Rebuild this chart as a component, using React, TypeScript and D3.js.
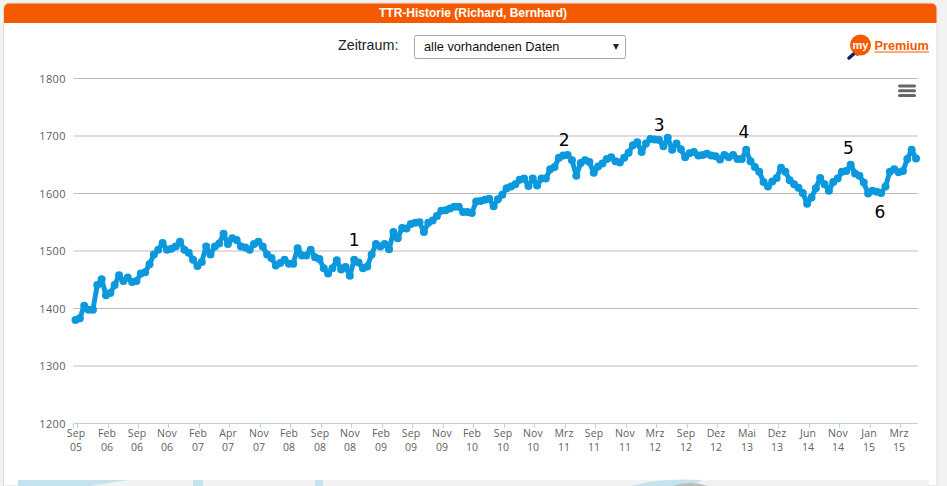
import * as d3 from 'd3';

// TTR values, one per rating update
const ttrValues = [
  1380, 1383, 1405, 1398, 1398, 1441, 1451, 1423, 1427, 1441,
  1458, 1448, 1454, 1446, 1448, 1461, 1463, 1477, 1494, 1502,
  1514, 1502, 1504, 1508, 1516, 1502, 1497, 1485, 1474, 1481,
  1508, 1494, 1508, 1513, 1530, 1512, 1522, 1519, 1508, 1506,
  1502, 1512, 1516, 1508, 1494, 1488, 1475, 1479, 1485, 1478,
  1478, 1505, 1492, 1492, 1502, 1489, 1486, 1470, 1461, 1470,
  1484, 1468, 1472, 1457, 1485, 1480, 1470, 1473, 1494, 1512,
  1508, 1512, 1503, 1533, 1522, 1540, 1539, 1547, 1549, 1550,
  1533, 1549, 1553, 1561, 1570, 1571, 1574, 1577, 1577, 1568,
  1568, 1566, 1586, 1587, 1589, 1591, 1578, 1590, 1598, 1609,
  1612, 1616, 1624, 1626, 1613, 1626, 1614, 1626, 1626, 1642,
  1646, 1662, 1666, 1667, 1658, 1631, 1653, 1658, 1655, 1636,
  1647, 1652, 1660, 1663, 1656, 1654, 1662, 1671, 1684, 1689,
  1672, 1687, 1695, 1694, 1693, 1682, 1697, 1676, 1687, 1677,
  1663, 1670, 1672, 1666, 1667, 1669, 1666, 1665, 1659, 1667,
  1663, 1667, 1660, 1660, 1676, 1656, 1646, 1638, 1620, 1612,
  1621, 1627, 1645, 1638, 1623, 1616, 1610, 1601, 1582, 1593,
  1609, 1627, 1616, 1605, 1620, 1626, 1638, 1639, 1650, 1635,
  1631, 1619, 1600, 1605, 1603, 1601, 1612, 1638, 1642, 1637,
  1639, 1660, 1676, 1661,
];

const tickMonths = [
  'Sep', 'Feb', 'Sep', 'Nov', 'Feb', 'Apr', 'Nov', 'Feb', 'Sep', 'Nov',
  'Feb', 'Sep', 'Nov', 'Feb', 'Sep', 'Nov', 'Mrz', 'Sep', 'Nov', 'Mrz',
  'Sep', 'Dez', 'Mai', 'Dez', 'Jun', 'Nov', 'Jan', 'Mrz',
];
const tickYears = [
  '05', '06', '06', '06', '07', '07', '07', '08', '08', '08',
  '09', '09', '09', '10', '10', '10', '11', '11', '11', '12',
  '12', '12', '13', '13', '14', '14', '15', '15',
];
const yTicks = [1200, 1300, 1400, 1500, 1600, 1700, 1800];

// numbered annotations: text, data index, value at the label baseline
const noteLabels = ['1', '2', '3', '4', '5', '6'];
const noteIndex = [64, 112.2, 134, 153.5, 177.5, 184.7];
const noteValue = [1509, 1682, 1708, 1696, 1668, 1558];

const tickStep = 7;
const font = '"Open Sans", sans-serif';
const orange = '#f55a00';

export default function App() {
  const width = 947;
  const height = 486;

  const x = d3.scaleLinear().domain([0, ttrValues.length - 1]).range([75.5, 916]);
  const y = d3.scaleLinear().domain([1200, 1800]).range([423.5, 78.5]);

  const line = d3.line<number>()
    .x((_, i) => x(i))
    .y(d => y(d));

  // ticks sit a little right of their point, the labels a little left
  const tickX = (k: number) => Math.round(x(k * tickStep + 0.35)) + 0.5;

  return (
    <svg
      width={width}
      height={height}
      viewBox={`0 0 ${width} ${height}`}
      style={{ position: 'absolute', left: 0, top: 0, display: 'block' }}
    >
      <rect width={width} height={height} fill="#f2f2f2" />

      {/* panel */}
      <path
        d="M3.5,486 V9 Q3.5,3 9.5,3 H931 Q937,3 937,9 V486 Z"
        fill="#fff"
        stroke="#dcdcdc"
      />
      <path d="M4,23 V9 Q4,3.5 9.5,3.5 H931 Q936.5,3.5 936.5,9 V23 Z" fill={orange} />
      <text
        x={473}
        y={17}
        textAnchor="middle"
        fill="#fff"
        fontFamily="Liberation Sans, sans-serif"
        fontWeight="bold"
        fontSize={12}
      >
        TTR-Historie (Richard, Bernhard)
      </text>

      {/* period select */}
      <text x={338} y={50} fontFamily="Liberation Sans, sans-serif" fontSize={14.3} fill="#222">
        Zeitraum:
      </text>
      <rect x={414.5} y={35.5} width={211} height={23} rx={2} fill="#fff" stroke="#a6a6a6" />
      <text x={424} y={51} fontFamily="Liberation Sans, sans-serif" fontSize={12.75} fill="#111">
        alle vorhandenen Daten
      </text>
      <path d="M613,44 h6 l-3,6 Z" fill="#222" />

      {/* myPremium logo */}
      <path d="M857,51 L849,58" stroke="#12235e" strokeWidth={3.5} strokeLinecap="round" />
      <path d="M853,50 L862,53 L857,56 Z" fill="#12235e" />
      <ellipse cx={860.5} cy={45} rx={10.5} ry={10.5} fill={orange} />
      <text x={860.5} y={49} textAnchor="middle" fill="#fff" fontFamily="Liberation Sans, sans-serif" fontWeight="bold" fontSize={11}>
        my
      </text>
      <text x={874.5} y={50} fill={orange} fontFamily="Liberation Sans, sans-serif" fontWeight="bold" fontSize={12.7}>
        Premium
      </text>
      <line x1={874.5} x2={929} y1={52} y2={52} stroke={orange} />

      {/* grid and y axis */}
      {yTicks.map(t => (
        <g key={t}>
          {t > 1200 && <line x1={73.5} x2={918} y1={y(t)} y2={y(t)} stroke="#bdbdbd" />}
          <text x={66} y={y(t) + 4} textAnchor="end" fill="#606060" fontFamily={font} fontSize={11} letterSpacing={0.4}>
            {t}
          </text>
        </g>
      ))}

      {/* x axis */}
      <line x1={73.5} x2={918} y1={423.5} y2={423.5} stroke="#c0d0e0" />
      <line x1={73.5} x2={73.5} y1={423.5} y2={428} stroke="#c0d0e0" />
      {tickMonths.map((m, k) => (
        <g key={k}>
          <line x1={tickX(k)} x2={tickX(k)} y1={423.5} y2={428} stroke="#c0d0e0" />
          <text textAnchor="middle" fill="#606060" fontFamily={font} fontSize={10.5} letterSpacing={0.1}>
            <tspan x={tickX(k) - 1.5} y={437}>{m}</tspan>
            <tspan x={tickX(k) - 1.5} y={451}>{tickYears[k]}</tspan>
          </text>
        </g>
      ))}

      {/* series */}
      <path d={line(ttrValues) ?? ''} fill="none" stroke="#0c98dc" strokeWidth={5} strokeLinejoin="round" />
      {ttrValues.map((v, i) => (
        <circle key={i} cx={x(i)} cy={y(v)} r={4} fill="#0c98dc" />
      ))}

      {/* numbered notes */}
      {noteLabels.map((n, i) => (
        <text
          key={n}
          x={x(noteIndex[i])}
          y={y(noteValue[i])}
          textAnchor="middle"
          fill="#000"
          fontFamily="DejaVu Sans, sans-serif"
          fontSize={17}
        >
          {n}
        </text>
      ))}

      {/* menu button */}
      {[86, 90.8, 95.6].map(b => (
        <line key={b} x1={899.5} x2={914.5} y1={b} y2={b} stroke="#666" strokeWidth={3} strokeLinecap="round" />
      ))}

      {/* start of the page background below the chart */}
      <rect x={18} y={480} width={911} height={6} fill="#f2f2f2" />
      <path d="M18,480 H128 L90,486 H18 Z" fill="#c5e3ef" />
      <rect x={193} y={480} width={10} height={6} fill="#c5e3ef" />
      <rect x={315} y={480} width={8} height={6} fill="#c5e3ef" />
      <path d="M630,486 Q660,478 702,480 L690,486 Z" fill="#c5e3ef" />
      <path d="M672,486 Q690,480 708,486 Z" fill="#bdbdbd" />
    </svg>
  );
}
